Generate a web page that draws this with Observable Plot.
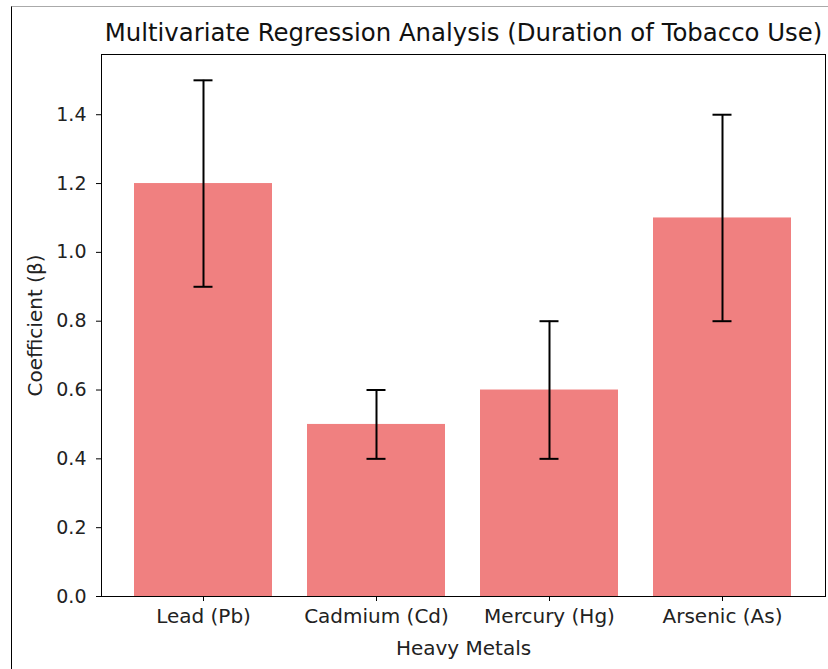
<!DOCTYPE html>
<html>
<head>
<meta charset="utf-8">
<script src="https://cdn.jsdelivr.net/npm/d3@7"></script>
<script src="https://cdn.jsdelivr.net/npm/@observablehq/plot@0.6"></script>
<style>
  html, body { margin: 0; padding: 0; background: #fff; }
  #wrap { position: relative; width: 828px; height: 669px; overflow: hidden; }
  #border { position: absolute; left: 11px; top: 6px; width: 900px; height: 900px;
            border-left: 1.5px solid #000; border-top: 1px solid #aaa; box-sizing: border-box; }
  #chart { position: absolute; left: 0; top: 0; }
  svg { font-family: "DejaVu Sans", sans-serif; }
</style>
</head>
<body>
<div id="wrap"><div id="border"></div><div id="chart"></div></div>
<script>
const metals = ["Lead (Pb)", "Cadmium (Cd)", "Mercury (Hg)", "Arsenic (As)"];
const coefficients = [1.2, 0.5, 0.6, 1.1];
const errors = [0.3, 0.1, 0.2, 0.3];
const yTicks = [0, 0.2, 0.4, 0.6, 0.8, 1.0, 1.2, 1.4];
const title = "Multivariate Regression Analysis (Duration of Tobacco Use)";
const xLabel = "Heavy Metals";
const yLabel = "Coefficient (β)";

const data = metals.map((m, i) => ({
  metal: m, coef: coefficients[i], lo: coefficients[i] - errors[i], hi: coefficients[i] + errors[i]
}));

const plot = Plot.plot({
  width: 828,
  height: 669,
  marginLeft: 101,
  marginRight: 3,
  marginTop: 54,
  marginBottom: 73,
  style: { fontFamily: "DejaVu Sans, sans-serif", fontSize: "20px", color: "#000", background: "transparent" },
  x: { domain: metals, paddingInner: 0.2, paddingOuter: 0.19, align: 0.5, label: null },
  y: { domain: [0, 1.575], label: null },
  marks: [
    Plot.barY(data, { x: "metal", y: "coef", fill: "#F08080" }),
    Plot.ruleX(data, { x: "metal", y1: "lo", y2: "hi", stroke: "#000", strokeWidth: 2 }),
    Plot.tickY(data, { x: "metal", y: "lo", stroke: "#000", strokeWidth: 2, insetLeft: 59.5, insetRight: 59.5 }),
    Plot.tickY(data, { x: "metal", y: "hi", stroke: "#000", strokeWidth: 2, insetLeft: 59.5, insetRight: 59.5 }),
    Plot.frame({ stroke: "#000", strokeWidth: 1 }),
    Plot.axisY({ ticks: yTicks, tickFormat: d3.format(".1f"), tickSize: 5, tickPadding: 10, label: null, fontSize: 19, fill: "#222" }),
    Plot.axisX({ tickSize: 5, tickPadding: 7, label: null, fontSize: 20, fill: "#222" }),
    Plot.text([title], { frameAnchor: "top", lineAnchor: "middle", dy: -21, fontSize: 24.4, fill: "#111" }),
    Plot.text([xLabel], { frameAnchor: "bottom", lineAnchor: "middle", dy: 52, fontSize: 20, fill: "#222" }),
    Plot.text([yLabel], { frameAnchor: "left", textAnchor: "middle", lineAnchor: "middle", dx: -66, rotate: -90, fontSize: 20, fill: "#222" })
  ]
});
document.getElementById("chart").appendChild(plot);
</script>
</body>
</html>
